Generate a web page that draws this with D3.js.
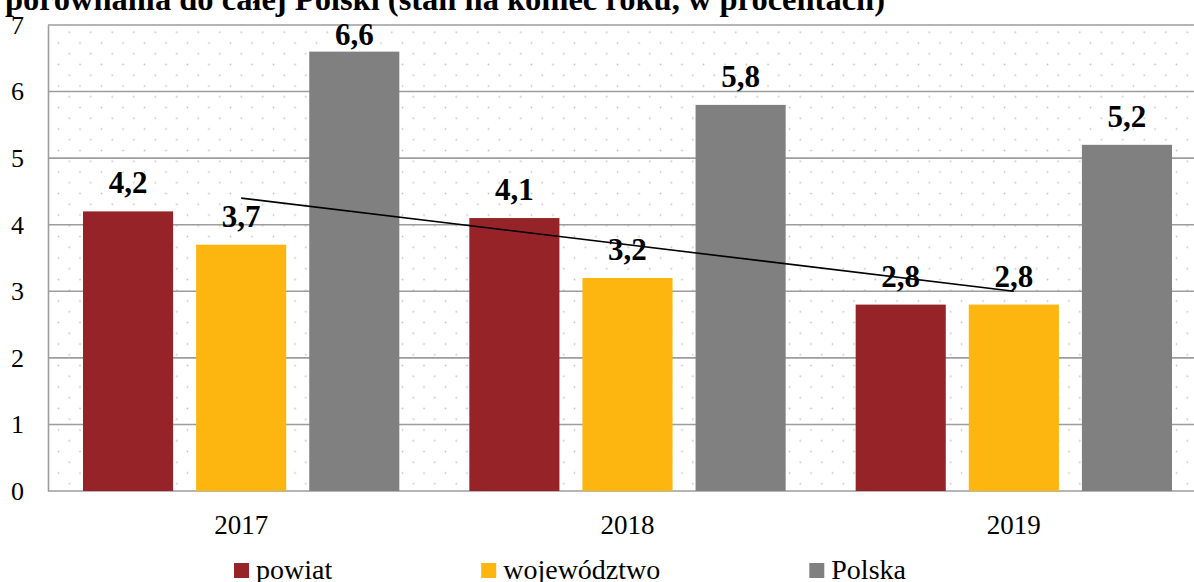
<!DOCTYPE html>
<html>
<head>
<meta charset="utf-8">
<script src="https://cdn.jsdelivr.net/npm/d3@7"></script>
<style>
  body { margin: 0; background: #fff; }
  svg { display: block; font-family: "Liberation Serif", "Times New Roman", serif; }
</style>
</head>
<body>
<div id="chart"></div>
<script>
const title_text = 'porównania do całej Polski (stan na koniec roku, w procentach)';
const categories = [ '2017', '2018', '2019' ];
const series_names = [ 'powiat', 'województwo', 'Polska' ];
const powiat = [ 4.2, 4.1, 2.8 ];
const wojewodztwo = [ 3.7, 3.2, 2.8 ];
const polska = [ 6.6, 5.8, 5.2 ];
const y_ticks = [ 0, 1, 2, 3, 4, 5, 6, 7 ];

const bar_colors = [ '#952327', '#fdb60f', '#808080' ];

class Barchart{

  constructor( elem_id ){
    this.elem_id = elem_id;
    this.settings = {
      figure_width: 1194,
      figure_height: 582,
      plot_left: 48,
      plot_right: 1207,   // the original is cropped on the right
      plot_top: 25,
      plot_bottom: 491,
      grid_color: '#9d9d9d'
    };
    var series = [ powiat, wojewodztwo, polska ];
    this.rows = categories.map( function( c, i ){
      return { year: c, items: series_names.map( function( s, j ){ return { key: s, value: series[j][i] } } ) }
    } );
    this.color = d3.scaleOrdinal().domain( series_names ).range( bar_colors );
    this.render();
    this.render_legend();
  }

  render(){
    var s = this.settings;
    var _this = this;
    this.svg = d3.select( '#' + this.elem_id ).append( 'svg' )
      .attr( 'width', s.figure_width )
      .attr( 'height', s.figure_height );

    // Dotted background pattern
    var pat = this.svg.append( 'defs' ).append( 'pattern' )
      .attr( 'id', 'dots' )
      .attr( 'patternUnits', 'userSpaceOnUse' )
      .attr( 'x', 63.9 ).attr( 'y', 26.9 )
      .attr( 'width', 21.5 ).attr( 'height', 21.5 );
    pat.append( 'circle' ).attr( 'cx', 5.375 ).attr( 'cy', 5.375 ).attr( 'r', 0.9 ).attr( 'fill', '#c4c4c4' );
    pat.append( 'circle' ).attr( 'cx', 16.125 ).attr( 'cy', 16.125 ).attr( 'r', 0.9 ).attr( 'fill', '#c4c4c4' );

    this.svg.append( 'rect' )
      .attr( 'x', s.plot_left ).attr( 'y', s.plot_top )
      .attr( 'width', s.plot_right - s.plot_left )
      .attr( 'height', s.plot_bottom - s.plot_top )
      .attr( 'fill', 'url(#dots)' );

    // Title (cut off at the top in the original)
    this.svg.append( 'text' )
      .attr( 'x', 5 ).attr( 'y', 10 )
      .attr( 'font-size', 32.5 ).attr( 'font-weight', 'bold' )
      .text( title_text );

    this.x_scale = d3.scaleBand()
      .domain( categories )
      .range( [ s.plot_left, s.plot_right ] )
      .padding( 0 );
    this.x_subgroup = d3.scaleBand()
      .domain( series_names )
      .range( [ 35, this.x_scale.bandwidth() - 35 ] )
      .paddingInner( 0.2035 )
      .paddingOuter( 0 );
    this.y_scale = d3.scaleLinear()
      .domain( [ 0, 7 ] )
      .range( [ s.plot_bottom, s.plot_top ] );

    // Grid lines
    this.svg.append( 'g' )
      .selectAll( 'line' )
      .data( y_ticks )
      .enter().append( 'line' )
        .attr( 'x1', s.plot_left ).attr( 'x2', s.plot_right )
        .attr( 'y1', function( d ){ return _this.y_scale( d ) } )
        .attr( 'y2', function( d ){ return _this.y_scale( d ) } )
        .attr( 'stroke', s.grid_color )
        .attr( 'stroke-width', 1.6 );

    // Y axis
    var yaxis = this.svg.append( 'g' )
      .attr( 'transform', 'translate(' + s.plot_left + ',0)' )
      .call( d3.axisLeft( this.y_scale ).tickValues( y_ticks ).tickFormat( d3.format( 'd' ) ).tickSize( 0 ).tickPadding( 24 ) )
      .attr( 'font-family', null ).attr( 'font-size', 26 );
    yaxis.select( '.domain' ).attr( 'stroke', s.grid_color ).attr( 'stroke-width', 1.6 );
    yaxis.selectAll( 'text' ).attr( 'fill', '#000' );

    // X axis labels
    var xaxis = this.svg.append( 'g' )
      .attr( 'transform', 'translate(0,' + s.plot_bottom + ')' )
      .call( d3.axisBottom( this.x_scale ).tickSize( 0 ).tickPadding( 24 ) )
      .attr( 'font-family', null ).attr( 'font-size', 27 );
    xaxis.select( '.domain' ).remove();
    xaxis.selectAll( 'text' ).attr( 'fill', '#000' );

    // Bars
    var groups = this.svg.append( 'g' )
      .selectAll( 'g' )
      .data( this.rows )
      .enter().append( 'g' )
        .attr( 'transform', function( d ){ return 'translate(' + _this.x_scale( d.year ) + ',0)' } );
    groups.selectAll( 'rect' )
      .data( function( d ){ return d.items } )
      .enter().append( 'rect' )
        .attr( 'x', function( d ){ return _this.x_subgroup( d.key ) } )
        .attr( 'y', function( d ){ return _this.y_scale( d.value ) } )
        .attr( 'width', this.x_subgroup.bandwidth() )
        .attr( 'height', function( d ){ return s.plot_bottom - _this.y_scale( d.value ) } )
        .attr( 'fill', function( d ){ return _this.color( d.key ) } );

    // Linear trend of the powiat series
    var n = powiat.length;
    var mx = d3.mean( d3.range( n ) ), my = d3.mean( powiat );
    var slope = d3.sum( powiat, function( v, i ){ return ( i - mx ) * ( v - my ) } ) / d3.sum( d3.range( n ), function( i ){ return ( i - mx ) * ( i - mx ) } );
    var trend = [ 0, n - 1 ].map( function( i ){ return { year: categories[i], value: my + slope * ( i - mx ) } } );
    this.svg.append( 'path' )
      .datum( trend )
      .attr( 'd', d3.line()
        .x( function( d ){ return _this.x_scale( d.year ) + _this.x_scale.bandwidth() / 2 } )
        .y( function( d ){ return _this.y_scale( d.value ) } ) )
      .attr( 'stroke', '#000' )
      .attr( 'stroke-width', 1.6 )
      .attr( 'fill', 'none' );

    // Value labels
    groups.selectAll( 'text.val' )
      .data( function( d ){ return d.items } )
      .enter().append( 'text' )
        .attr( 'class', 'val' )
        .attr( 'x', function( d ){ return _this.x_subgroup( d.key ) + _this.x_subgroup.bandwidth() / 2 } )
        .attr( 'y', function( d ){ return Math.max( _this.y_scale( d.value ) - 18, 45 ) } )
        .attr( 'text-anchor', 'middle' )
        .attr( 'font-size', 31 )
        .attr( 'font-weight', 'bold' )
        .text( function( d ){ return d.value.toFixed( 1 ).replace( '.', ',' ) } );
  }

  render_legend(){
    var _this = this;
    var x = 234;
    var key_size = 15;
    series_names.forEach( function( name ){
      _this.svg.append( 'rect' )
        .attr( 'x', x ).attr( 'y', 563 )
        .attr( 'width', key_size ).attr( 'height', key_size )
        .attr( 'fill', _this.color( name ) );
      var t = _this.svg.append( 'text' )
        .attr( 'x', x + 22 ).attr( 'y', 579 )
        .attr( 'font-size', 28 )
        .text( name );
      x = x + 22 + t.node().getComputedTextLength() + 149;
    } );
  }

}

new Barchart( 'chart' );
</script>
</body>
</html>
